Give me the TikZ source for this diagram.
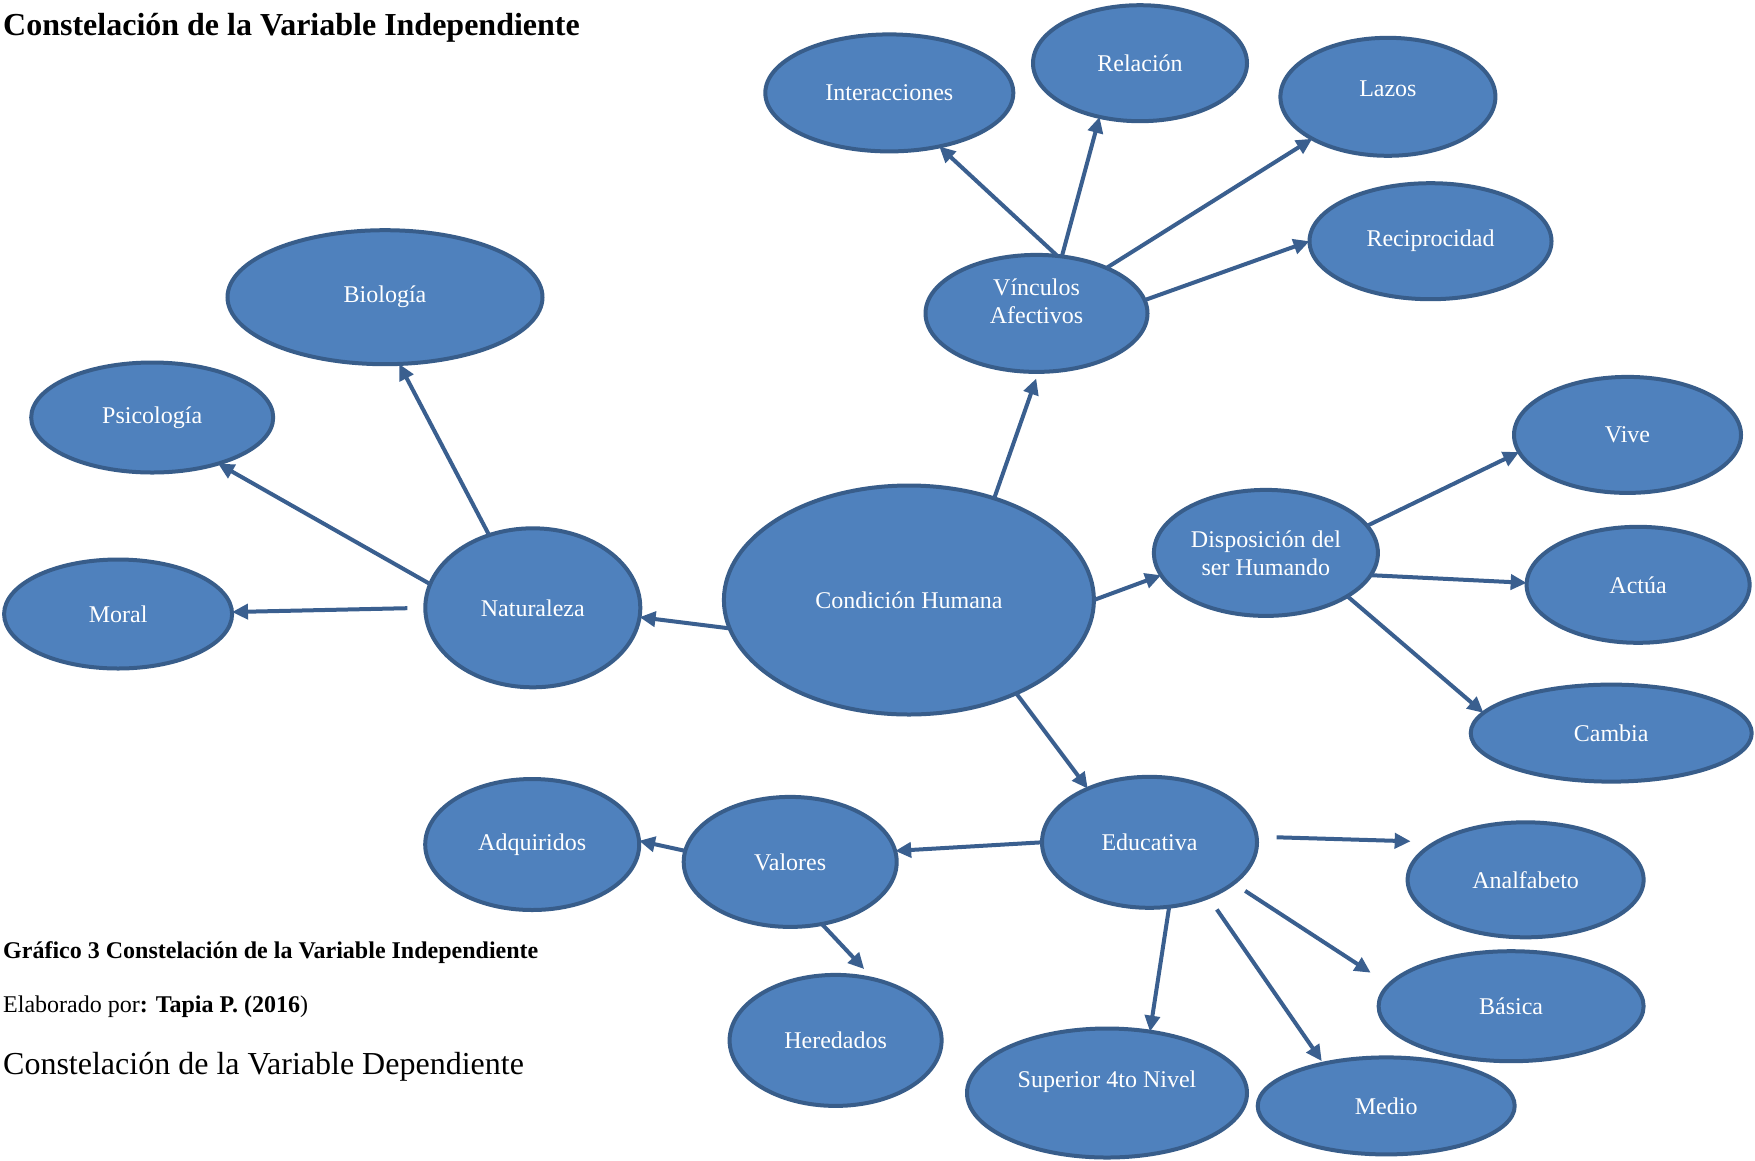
\documentclass[tikz,border=0pt]{standalone}
\usepackage{fontspec}
\setmainfont{Liberation Serif}
\usetikzlibrary{shapes.geometric,arrows.meta}
\definecolor{fillc}{HTML}{4F81BD}
\definecolor{bordc}{HTML}{385D8A}
\definecolor{arrc}{HTML}{3A5F8F}
\tikzset{
  ell/.style={ellipse, draw=bordc, fill=fillc, line width=4pt, inner sep=0pt, outer sep=0pt,
    text=white, font=\fontsize{24}{28}\selectfont, align=center},
  txt/.style={text=white, font=\fontsize{24}{28}\selectfont, align=center, inner sep=0pt},
  arr/.style={draw=arrc, line width=4pt, -{Triangle[length=16pt,width=15pt]}},
  captxt/.style={anchor=base west, inner sep=0pt, text=black},
}
\begin{document}
\begin{tikzpicture}[x=1pt,y=-1pt]
\useasboundingbox[fill=white] (0,0) rectangle (1755,1160);

% captions
\node[captxt, font=\fontsize{32}{36}\selectfont\bfseries] (title) at (3,35) {Constelación de la Variable Independiente};
\node[captxt, font=\fontsize{24}{28}\selectfont\bfseries] (graf) at (3,958) {Gráfico 3 Constelación de la Variable Independiente};
\node[captxt, font=\fontsize{24}{28}\selectfont] (elab) at (3,1012) {Elaborado por\textbf{: Tapia P. (2016})};
\node[captxt, font=\fontsize{32}{36}\selectfont] (dep) at (3,1074) {Constelación de la Variable Dependiente};

% ellipses
\node[ell, minimum width=370, minimum height=229] (ch) at (908.9,600.0) {Condición Humana};
\node[ell, minimum width=215, minimum height=159] (nat) at (532.8,607.8) {Naturaleza};
\node[ell, minimum width=315, minimum height=134] (bio) at (385.0,297.2) {Biología};
\node[ell, minimum width=242, minimum height=110] (psi) at (152.2,417.5) {Psicología};
\node[ell, minimum width=228, minimum height=109] (moral) at (118.1,614.0) {Moral};
\node[ell, minimum width=222, minimum height=117, label={[txt, yshift=12pt]center:Vínculos\\Afectivos}] (vin) at (1036.5,313.4) {};
\node[ell, minimum width=248, minimum height=117] (int) at (889.3,92.9) {Interacciones};
\node[ell, minimum width=214, minimum height=116] (rel) at (1140.0,63.2) {Relación};
\node[ell, minimum width=215, minimum height=118, label={[txt, yshift=8pt]center:Lazos}] (lazos) at (1387.9,96.8) {};
\node[ell, minimum width=242, minimum height=116] (rec) at (1430.5,241.2) {Reciprocidad};
\node[ell, minimum width=224, minimum height=126] (disp) at (1265.9,552.9) {Disposición del\\ser Humando};
\node[ell, minimum width=227, minimum height=116] (vive) at (1627.5,434.9) {Vive};
\node[ell, minimum width=223, minimum height=116] (actua) at (1638.1,584.8) {Actúa};
\node[ell, minimum width=281, minimum height=97] (cambia) at (1611.2,733.1) {Cambia};
\node[ell, minimum width=215, minimum height=131] (edu) at (1149.5,842.3) {Educativa};
\node[ell, minimum width=213, minimum height=130] (val) at (790.2,861.9) {Valores};
\node[ell, minimum width=214, minimum height=131] (adq) at (532.2,844.5) {Adquiridos};
\node[ell, minimum width=212, minimum height=131] (her) at (835.6,1040.4) {Heredados};
\node[ell, minimum width=236, minimum height=115] (anal) at (1525.6,879.8) {Analfabeto};
\node[ell, minimum width=265, minimum height=110] (bas) at (1511.1,1006.2) {Básica};
\node[ell, minimum width=280, minimum height=129, label={[txt, yshift=11pt]center:Superior 4to Nivel}] (sup) at (1107.0,1093.0) {};
\node[ell, minimum width=257, minimum height=97] (medio) at (1386.2,1105.9) {Medio};

% connectors
\draw[arr] (ch.189) -- (nat.355);
\draw[arr, shorten <=18pt] (nat.180) -- (moral.1);
\draw[arr] (nat.167) -- (psi.325);
\draw[arr] (nat.121) -- (bio.282);
\draw[arr, shorten >=7pt] (ch.50) -- (vin.272);
\draw[arr] (vin.70) -- (int.313);
\draw[arr] (vin.66) -- (rel.233);
\draw[arr] (vin.33) -- (lazos.209);
\draw[arr] (vin.7.5) -- (rec.180.5);
\draw[arr] (ch.0) -- (disp.192);
\draw[arr] (disp.15) -- (vive.189);
\draw[arr] (disp.348) -- (actua.179);
\draw[arr] (disp.332) -- (cambia.171);
\draw[arr] (ch.319) -- (edu.139);
\draw[arr] (edu.180) -- (val.6);
\draw[arr] (val.174) -- (adq.2);
\draw[arr, shorten >=14pt] (val.297) -- (her.58);
\draw[arr, shorten <=20pt, shorten >=26pt] (edu.3.5) -- (anal.157.5);
\draw[arr, shorten <=14pt, shorten >=22pt] (edu.334.6) -- (bas.170.4);
\draw[arr, shorten <=15pt, shorten >=3pt] (edu.317) -- (medio.146.5);
\draw[arr] (edu.287) -- (sup.55);
\end{tikzpicture}
\end{document}
